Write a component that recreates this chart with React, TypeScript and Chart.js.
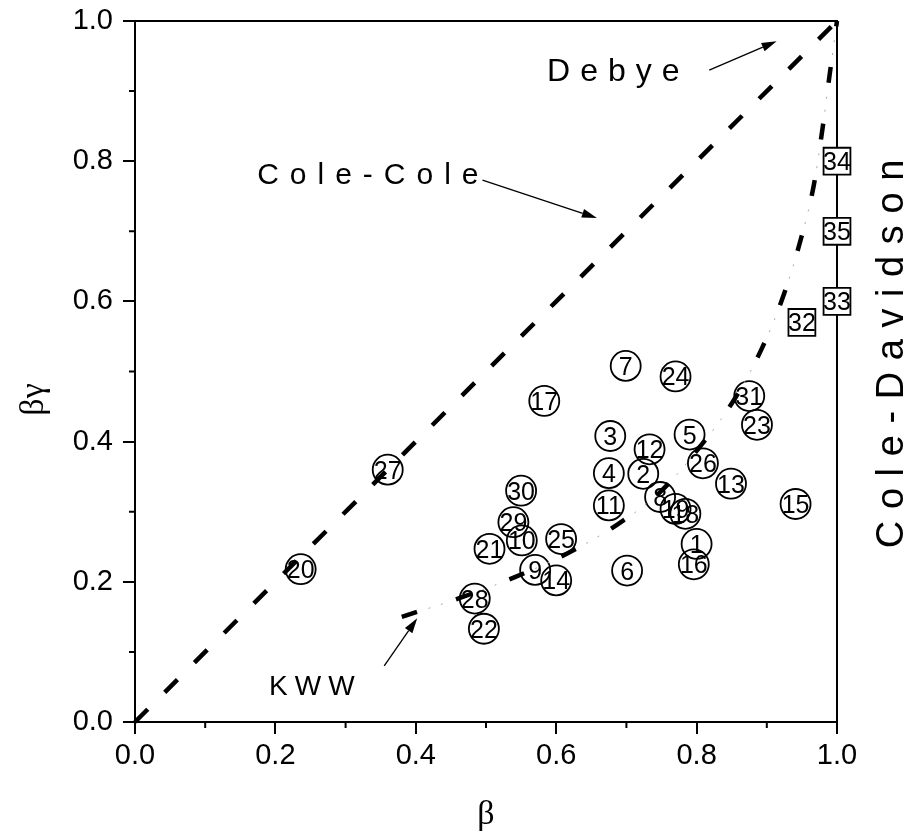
import { useEffect, useRef } from "react";
import { Chart, registerables } from "chart.js";

Chart.register(...registerables);

// ---------- data ----------
const circleIds = [
  1, 2, 3, 4, 5, 6, 7, 8, 9, 10, 11, 12, 13, 14, 15, 16,
  17, 18, 19, 20, 21, 22, 23, 24, 25, 26, 27, 28, 29, 30, 31,
];
const circleBeta = [
  0.8, 0.724, 0.677, 0.675, 0.79, 0.701, 0.699, 0.748, 0.57, 0.551, 0.675, 0.733, 0.849, 0.6, 0.941, 0.796,
  0.583, 0.784, 0.77, 0.236, 0.505, 0.497, 0.886, 0.77, 0.607, 0.809, 0.36, 0.484, 0.539, 0.55, 0.875,
];
const circleBetaGamma = [
  0.254, 0.354, 0.408, 0.355, 0.41, 0.216, 0.508, 0.321, 0.217, 0.259, 0.309, 0.389, 0.34, 0.202, 0.311, 0.225,
  0.458, 0.297, 0.304, 0.218, 0.247, 0.133, 0.424, 0.493, 0.261, 0.369, 0.36, 0.176, 0.285, 0.33, 0.465,
];

const squareIds = [32, 33, 34, 35];
const squareBeta = [0.95, 1.0, 1.0, 1.0];
const squareBetaGamma = [0.57, 0.6, 0.8, 0.7];

const coleColeBeta = [0, 1];
const coleColeBetaGamma = [0, 1];

const kwwBeta = [
  0.38, 0.463, 0.542, 0.617, 0.686, 0.748, 0.805, 0.853, 0.893, 0.924, 0.948, 0.967, 0.979, 0.99, 1.0,
];
const kwwBetaGamma = [
  0.15, 0.177, 0.207, 0.241, 0.281, 0.328, 0.393, 0.459, 0.533, 0.609, 0.687, 0.766, 0.844, 0.927, 1.0,
];

const majorTicks = [0, 0.2, 0.4, 0.6, 0.8, 1.0];
const minorTicks = [0.1, 0.3, 0.5, 0.7, 0.9];

const xTitle = "β";
const yTitle = "βγ";

// annotation texts (data coordinates)
const noteTexts = ["Debye", "Cole-Cole", "KWW"];
const noteBeta = [0.587, 0.174, 0.191];
const noteBetaGamma = [0.915, 0.768, 0.038];
const noteFontSize = [32, 30, 28];
const noteSpacing = [10, 11, 7];

const arrowFromBeta = [0.818, 0.495, 0.355];
const arrowFromBetaGamma = [0.93, 0.773, 0.08];
const arrowToBeta = [0.914, 0.658, 0.402];
const arrowToBetaGamma = [0.971, 0.719, 0.148];

const sideText = "Cole-Davidson";
const sideBeta = 1.094;
const sideBetaGamma = 0.248;

const SANS = '"Liberation Sans", Arial, Helvetica, sans-serif';
const SERIF = '"Liberation Serif", "Times New Roman", serif';

function spaced(ctx: CanvasRenderingContext2D, text: string, x: number, y: number, sp: number) {
  let cx = x;
  for (const ch of text) {
    ctx.fillText(ch, cx, y);
    cx += ctx.measureText(ch).width + sp;
  }
}

function arrow(ctx: CanvasRenderingContext2D, x1: number, y1: number, x2: number, y2: number) {
  const ang = Math.atan2(y2 - y1, x2 - x1);
  const hl = 15;
  const hw = 4.5;
  const bx = x2 - hl * Math.cos(ang);
  const by = y2 - hl * Math.sin(ang);
  ctx.beginPath();
  ctx.moveTo(x1, y1);
  ctx.lineTo(bx, by);
  ctx.lineWidth = 1.3;
  ctx.strokeStyle = "#000";
  ctx.stroke();
  ctx.beginPath();
  ctx.moveTo(x2, y2);
  ctx.lineTo(bx + hw * Math.sin(ang), by - hw * Math.cos(ang));
  ctx.lineTo(bx - hw * Math.sin(ang), by + hw * Math.cos(ang));
  ctx.closePath();
  ctx.fillStyle = "#000";
  ctx.fill();
}

const decorPlugin = {
  id: "decor",
  beforeDatasetsDraw(chart: any) {
    const { ctx, chartArea: a, scales } = chart;
    const xs = scales.x;
    const ys = scales.y;
    ctx.save();
    ctx.strokeStyle = "#000";
    ctx.lineWidth = 2;
    // top and right frame
    ctx.beginPath();
    ctx.moveTo(a.left, a.top);
    ctx.lineTo(a.right, a.top);
    ctx.lineTo(a.right, a.bottom);
    ctx.stroke();
    // minor ticks
    ctx.beginPath();
    for (const v of minorTicks) {
      const px = xs.getPixelForValue(v);
      ctx.moveTo(px, a.bottom);
      ctx.lineTo(px, a.bottom + 6);
      const py = ys.getPixelForValue(v);
      ctx.moveTo(a.left, py);
      ctx.lineTo(a.left - 6, py);
    }
    ctx.stroke();
    ctx.restore();
  },
  afterDatasetsDraw(chart: any) {
    const { ctx, chartArea: a, scales } = chart;
    const xs = scales.x;
    const ys = scales.y;
    ctx.save();
    ctx.fillStyle = "#000";
    // point labels
    ctx.font = `25px ${SANS}`;
    ctx.textAlign = "center";
    ctx.textBaseline = "alphabetic";
    const m1 = chart.getDatasetMeta(3);
    m1.data.forEach((el: any, i: number) => {
      ctx.fillText(String(circleIds[i]), el.x, el.y + 9);
    });
    const m2 = chart.getDatasetMeta(4);
    m2.data.forEach((el: any, i: number) => {
      ctx.fillText(String(squareIds[i]), el.x, el.y + 9);
    });

    // annotation texts
    ctx.textAlign = "left";
    noteTexts.forEach((t, i) => {
      ctx.font = `${noteFontSize[i]}px ${SANS}`;
      spaced(ctx, t, xs.getPixelForValue(noteBeta[i]), ys.getPixelForValue(noteBetaGamma[i]), noteSpacing[i]);
    });
    arrowFromBeta.forEach((_, i) => {
      arrow(
        ctx,
        xs.getPixelForValue(arrowFromBeta[i]),
        ys.getPixelForValue(arrowFromBetaGamma[i]),
        xs.getPixelForValue(arrowToBeta[i]),
        ys.getPixelForValue(arrowToBetaGamma[i])
      );
    });
    // side text
    ctx.save();
    ctx.translate(xs.getPixelForValue(sideBeta), ys.getPixelForValue(sideBetaGamma));
    ctx.rotate(-Math.PI / 2);
    ctx.font = `38px ${SANS}`;
    spaced(ctx, sideText, 0, 0, 11.6);
    ctx.restore();

    // axis titles
    ctx.font = `34px ${SERIF}`;
    ctx.textAlign = "center";
    ctx.textBaseline = "middle";
    ctx.fillText(xTitle, (a.left + a.right) / 2, 815);
    ctx.save();
    ctx.translate(34, (a.top + a.bottom) / 2 + 28);
    ctx.rotate(-Math.PI / 2);
    ctx.fillText(yTitle, 0, 0);
    ctx.restore();
    ctx.restore();
  },
};

const tickFont = { family: SANS, size: 29 };

export default function App() {
  const ref = useRef<HTMLCanvasElement | null>(null);
  useEffect(() => {
    if (!ref.current) return;
    const circles = circleBeta.map((b, i) => ({ x: b, y: circleBetaGamma[i] }));
    const squares = squareBeta.map((b, i) => ({ x: b, y: squareBetaGamma[i] }));
    const coleCole = coleColeBeta.map((b, i) => ({ x: b, y: coleColeBetaGamma[i] }));
    const kww = kwwBeta.map((b, i) => ({ x: b, y: kwwBetaGamma[i] }));
    const scaleCommon = (isX: boolean) => ({
      type: "linear" as const,
      min: 0,
      max: 1,
      afterBuildTicks: (s: any) => {
        s.ticks = majorTicks.map((v) => ({ value: v }));
      },
      afterFit: (s: any) => {
        if (isX) s.height = 112;
        else s.width = 135;
        s.paddingTop = 0;
        s.paddingBottom = 0;
        s.paddingLeft = 0;
        s.paddingRight = 0;
      },
      ticks: {
        font: tickFont,
        color: "#000",
        padding: isX ? 5 : 10,
        maxRotation: 0,
        autoSkip: false,
        callback: (v: any) => Number(v).toFixed(1),
      },
      grid: {
        display: true,
        drawOnChartArea: false,
        drawTicks: true,
        tickLength: 12,
        tickWidth: 2,
        tickColor: "#000",
        color: "#000",
        lineWidth: 2,
      },
      border: { display: true, color: "#000", width: 2 },
      title: { display: false },
    });
    const chart = new Chart(ref.current, {
      type: "scatter",
      data: {
        datasets: [
          {
            label: "Cole-Cole",
            type: "line",
            data: coleCole,
            borderColor: "#000",
            borderWidth: 4.5,
            borderDash: [18, 24],
            pointRadius: 0,
            fill: false,
            clip: 6,
          } as any,
          {
            label: "KWW",
            type: "line",
            data: kww,
            borderColor: "#000",
            borderWidth: 4.5,
            borderDash: [16, 41],
            pointRadius: 0,
            fill: false,
            cubicInterpolationMode: "monotone",
            clip: 6,
          } as any,
          {
            label: "KWW dots",
            type: "line",
            data: kww,
            borderColor: "#a8a8a8",
            borderWidth: 1,
            borderDash: [2, 11, 2, 42],
            borderDashOffset: 29,
            pointRadius: 0,
            fill: false,
            cubicInterpolationMode: "monotone",
            clip: 6,
          } as any,
          {
            label: "circles",
            data: circles,
            pointStyle: "circle",
            pointRadius: 15,
            pointBorderWidth: 1.8,
            pointBorderColor: "#000",
            borderColor: "#000",
            pointBackgroundColor: "rgba(0,0,0,0)",
            backgroundColor: "rgba(0,0,0,0)",
            showLine: false,
            clip: false,
          } as any,
          {
            label: "squares",
            data: squares,
            pointStyle: "rect",
            pointRadius: 19,
            pointBorderWidth: 1.8,
            pointBorderColor: "#000",
            borderColor: "#000",
            pointBackgroundColor: "#fff",
            backgroundColor: "#fff",
            showLine: false,
            clip: false,
          } as any,
        ],
      },
      options: {
        animation: false,
        responsive: true,
        maintainAspectRatio: false,
        devicePixelRatio: 1,
        events: [],
        layout: { padding: { left: 0, right: 83, top: 21, bottom: 0 } },
        plugins: {
          legend: { display: false },
          tooltip: { enabled: false },
          title: { display: false },
        },
        scales: {
          x: scaleCommon(true) as any,
          y: scaleCommon(false) as any,
        },
      },
      plugins: [decorPlugin],
    });
    return () => chart.destroy();
  }, []);
  return (
    <div style={{ position: "absolute", left: 0, top: 0, width: 920, height: 834, background: "#fff" }}>
      <canvas ref={ref} />
    </div>
  );
}
